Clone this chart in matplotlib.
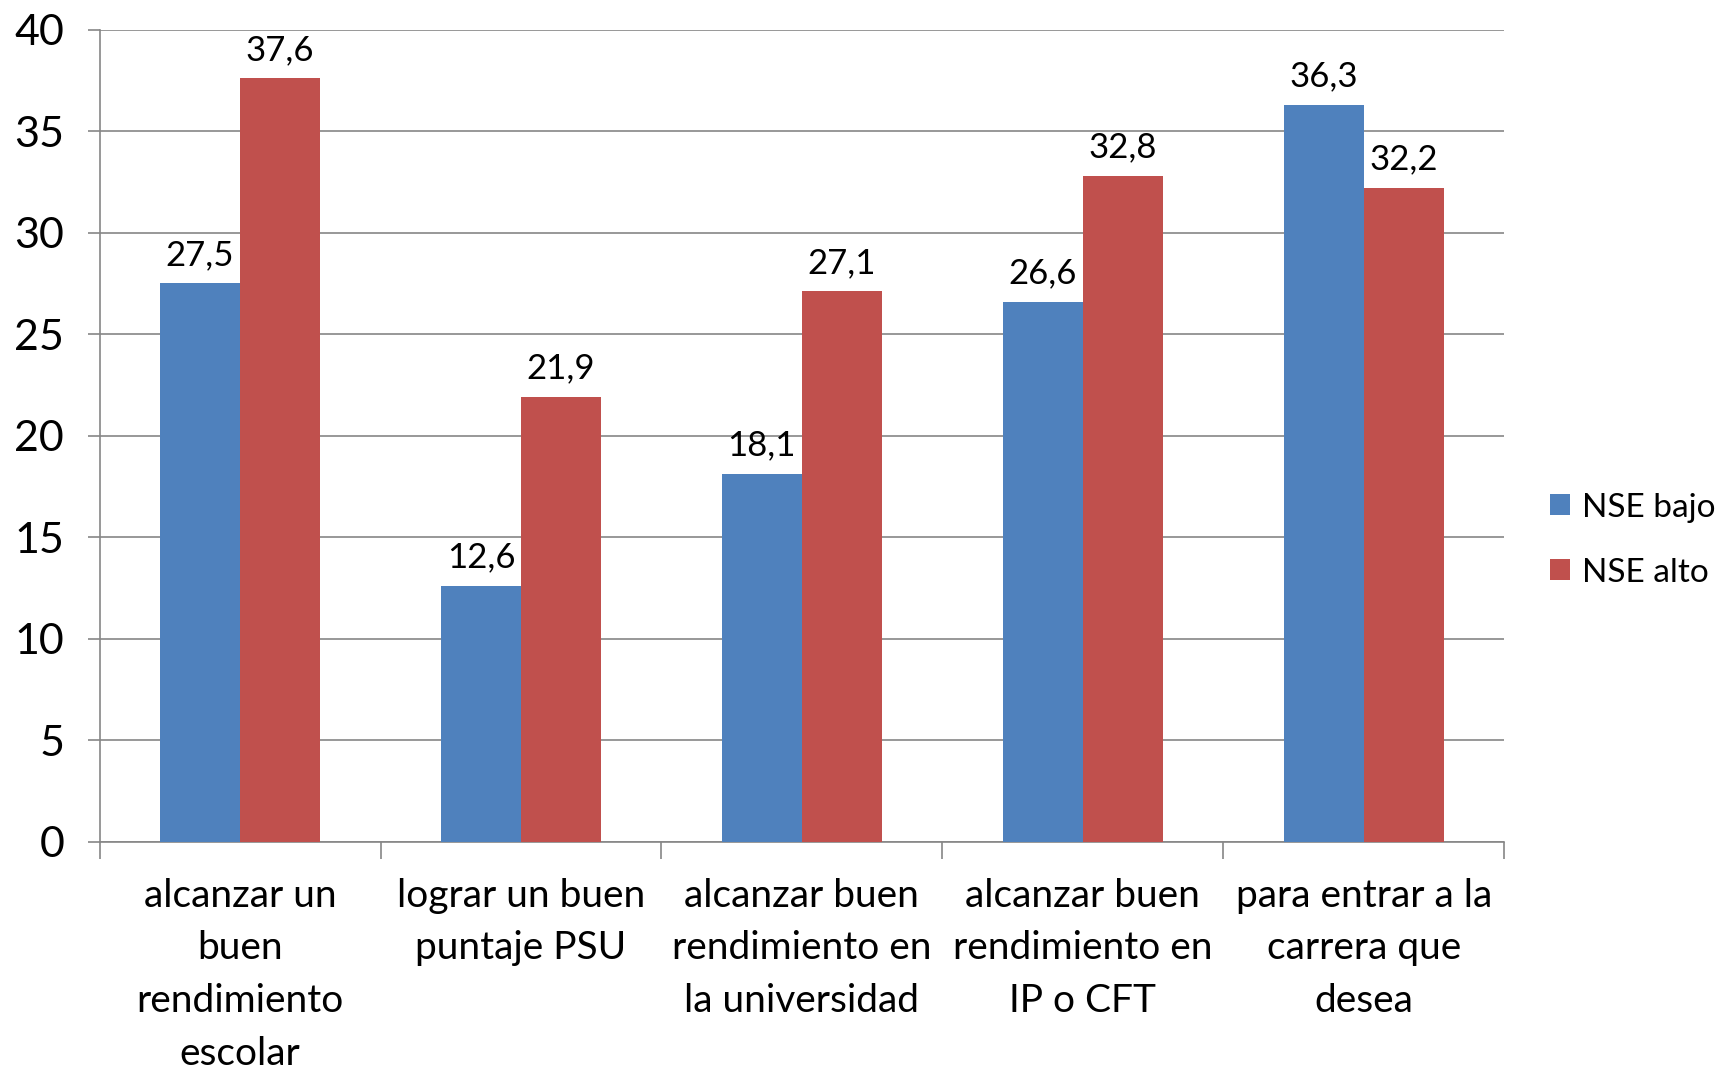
import matplotlib
matplotlib.use('Agg')
import matplotlib.pyplot as plt
import numpy as np

categories = [
    "alcanzar un\nbuen\nrendimiento\nescolar",
    "lograr un buen\npuntaje PSU",
    "alcanzar buen\nrendimiento en\nla universidad",
    "alcanzar buen\nrendimiento en\nIP o CFT",
    "para entrar a la\ncarrera que\ndesea",
]
nse_bajo = [27.5, 12.6, 18.1, 26.6, 36.3]
nse_alto = [37.6, 21.9, 27.1, 32.8, 32.2]
series_names = ["NSE bajo", "NSE alto"]

BLUE = '#4F81BD'
RED = '#C0504D'
GRID = '#868686'

plt.rcParams['font.family'] = ['Lato', 'DejaVu Sans']

fig = plt.figure(figsize=(17.18, 10.69), dpi=100)
ax = fig.add_axes([0.058, 0.2128, 0.8175, 0.7595])

x = np.arange(len(categories))
w = 0.285
b1 = ax.bar(x - w / 2, nse_bajo, w, color=BLUE, label=series_names[0], zorder=3)
b2 = ax.bar(x + w / 2, nse_alto, w, color=RED, label=series_names[1], zorder=3)

# etiquetas de valor con coma decimal
for bars, vals in ((b1, nse_bajo), (b2, nse_alto)):
    for rect, v in zip(bars, vals):
        ax.annotate(f"{v:.1f}".replace('.', ','),
                    (rect.get_x() + rect.get_width() / 2, v),
                    xytext=(0, 9), textcoords='offset points',
                    ha='center', va='bottom', fontsize=25)

ax.set_xlim(-0.5, len(categories) - 0.5)
ax.set_ylim(0, 40)
ax.set_yticks(range(0, 41, 5))
ax.yaxis.grid(True, color=GRID, lw=1.2, zorder=0)
ax.tick_params(axis='y', length=8.5, color=GRID, width=1.2, labelsize=31, pad=17)

# ticks en los limites de categoria, etiquetas centradas
ax.set_xticks(np.arange(-0.5, len(categories), 1.0))
ax.set_xticklabels([])
ax.set_xticks(x, minor=True)
ax.set_xticklabels(categories, minor=True, fontsize=28, linespacing=1.58)
ax.tick_params(axis='x', which='major', length=12, color=GRID, width=1.2)
ax.tick_params(axis='x', which='minor', length=0, pad=26)

for s in ('top', 'right'):
    ax.spines[s].set_visible(False)
for s in ('left', 'bottom'):
    ax.spines[s].set_color(GRID)
    ax.spines[s].set_linewidth(1.2)

handles, labels = ax.get_legend_handles_labels()
fig.legend(handles, labels, loc='center left', bbox_to_anchor=(0.9025, 0.4947),
           frameon=False, fontsize=24, handlelength=0.6, handleheight=0.6,
           handletextpad=0.35, labelspacing=1.05, borderpad=0, borderaxespad=0)

fig.savefig('out.png', dpi=100)
